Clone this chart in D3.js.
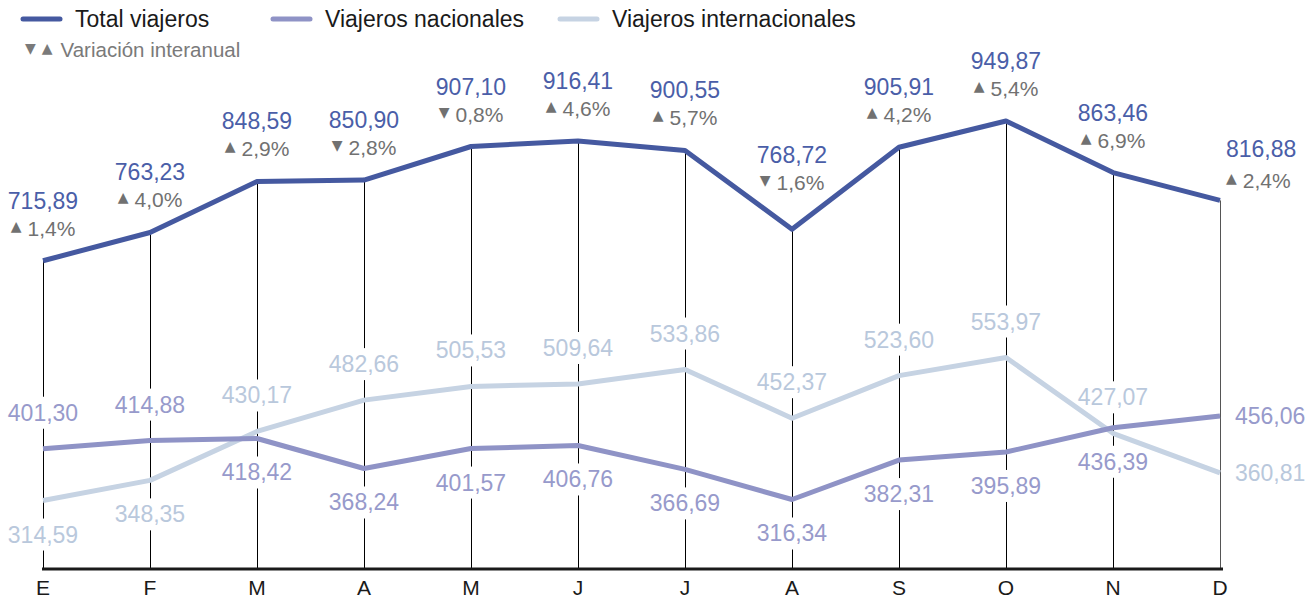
<!DOCTYPE html>
<html>
<head>
<meta charset="utf-8">
<script src="https://cdn.jsdelivr.net/npm/d3@7"></script>
<style>
  body { margin: 0; background: #fff; }
  svg { font-family: "Liberation Sans", Arial, Helvetica, sans-serif; }
  .tri { font-family: "DejaVu Sans", sans-serif; }
</style>
</head>
<body>
<svg id="chart" width="1315" height="601"></svg>
<script>
// Data
const months = ["E", "F", "M", "A", "M", "J", "J", "A", "S", "O", "N", "D"];
const total = [715.89, 763.23, 848.59, 850.90, 907.10, 916.41, 900.55, 768.72, 905.91, 949.87, 863.46, 816.88];
const variation = [1.4, 4.0, 2.9, -2.8, -0.8, 4.6, 5.7, -1.6, 4.2, 5.4, 6.9, 2.4];
const nacionales = [401.30, 414.88, 418.42, 368.24, 401.57, 406.76, 366.69, 316.34, 382.31, 395.89, 436.39, 456.06];
const internacionales = [314.59, 348.35, 430.17, 482.66, 505.53, 509.64, 533.86, 452.37, 523.60, 553.97, 427.07, 360.81];

// label placement per month (layout only)
const nacPlace = ["above", "above", "below", "below", "below", "below", "below", "below", "below", "below", "below", "right"];
const intPlace = ["below", "below", "above", "above", "above", "above", "above", "above", "above", "above", "above", "right"];

const colors = {
  total: "#4559a0",
  totalText: "#4a5ea8",
  nac: "#8f93c6",
  nacText: "#979acb",
  int: "#c6d3e3",
  intText: "#b9c8dc",
  grey: "#717171"
};

const es = d3.formatLocale({ decimal: ",", thousands: ".", grouping: [3], currency: ["", " €"] });
const fmt = es.format(".2f");
const fmtPct = es.format(".1f");

const svg = d3.select("#chart");
const idx = d3.range(months.length);

const x = d3.scalePoint().domain(idx).range([43, 1220]);
const y = d3.scaleLinear().domain([200, 1000]).range([569, 91]);
const crisp = v => Math.round(v) + 0.5;

// vertical drop lines
svg.append("g")
  .selectAll("line")
  .data(idx)
  .join("line")
  .attr("x1", i => crisp(x(i)))
  .attr("x2", i => crisp(x(i)))
  .attr("y1", i => y(total[i]))
  .attr("y2", y(200))
  .attr("stroke", i => i === months.length - 1 ? "#555" : "#000")
  .attr("stroke-width", 1);

// axis line
svg.append("line")
  .attr("x1", x(0) - 1).attr("x2", x(11) + 3)
  .attr("y1", y(200)).attr("y2", y(200))
  .attr("stroke", "#1a1a1a").attr("stroke-width", 3);

// month labels
svg.append("g")
  .selectAll("text")
  .data(idx)
  .join("text")
  .attr("x", i => x(i))
  .attr("y", 595)
  .attr("text-anchor", "middle")
  .attr("font-size", 21)
  .attr("fill", "#1a1a1a")
  .text(i => months[i]);

// label positions for the two lower series
function labelPos(values, place, i) {
  const p = place[i];
  if (p === "right") return { x: x(i) + 15, y: y(values[i]) + 8, anchor: "start" };
  if (p === "above") return { x: x(i), y: y(values[i]) - 28, anchor: "middle" };
  return { x: x(i), y: y(values[i]) + 42, anchor: "middle" };
}

// white backgrounds behind series labels cut the drop lines
const bgLayer = svg.append("g");
const lineLayer = svg.append("g");
const textLayer = svg.append("g");

const line = d3.line().x((d, i) => x(i)).y(d => y(d));

[[internacionales, colors.int], [nacionales, colors.nac], [total, colors.total]].forEach(([vals, c]) => {
  lineLayer.append("path")
    .attr("d", line(vals))
    .attr("fill", "none")
    .attr("stroke", c)
    .attr("stroke-width", 5)
    .attr("stroke-linejoin", "round");
});

[[nacionales, nacPlace, colors.nacText], [internacionales, intPlace, colors.intText]].forEach(([vals, place, c]) => {
  idx.forEach(i => {
    const pos = labelPos(vals, place, i);
    const t = textLayer.append("text")
      .attr("x", pos.x)
      .attr("y", pos.y)
      .attr("text-anchor", pos.anchor)
      .attr("font-size", 23)
      .attr("fill", c)
      .text(fmt(vals[i]));
    const bb = t.node().getBBox();
    bgLayer.append("rect")
      .attr("x", bb.x - 3).attr("y", pos.y - 24)
      .attr("width", bb.width + 6).attr("height", 32)
      .attr("fill", "#fff");
  });
});

// total labels with year-on-year variation
idx.forEach(i => {
  const px = x(i), py = y(total[i]);
  const last = i === months.length - 1;
  const dip = i > 0 && !last && total[i] < total[i - 1] && total[i] < total[i + 1];
  const lift = dip ? 14 : 0;
  const tx = last ? px + 6 : px;
  const anchor = last ? "start" : "middle";
  const vy = last ? py - 43 : py - 52 - lift;
  const ry = last ? py - 12 : py - 25 - lift;

  textLayer.append("text")
    .attr("x", tx).attr("y", vy)
    .attr("text-anchor", anchor)
    .attr("font-size", 23)
    .attr("fill", colors.totalText)
    .text(fmt(total[i]));

  const v = textLayer.append("text")
    .attr("x", tx).attr("y", ry)
    .attr("text-anchor", anchor)
    .attr("font-size", 21)
    .attr("fill", colors.grey);
  v.append("tspan")
    .attr("class", "tri")
    .attr("font-size", 14)
    .attr("dy", -5)
    .text(variation[i] < 0 ? "\u25BC" : "\u25B2");
  v.append("tspan")
    .attr("dy", 5)
    .attr("dx", 6)
    .text(fmtPct(Math.abs(variation[i])) + "%");
});

// legend
const legendItems = [
  { label: "Total viajeros", color: colors.total, x: 23 },
  { label: "Viajeros nacionales", color: colors.nac, x: 273 },
  { label: "Viajeros internacionales", color: colors.int, x: 560 }
];
const legend = svg.append("g");
legendItems.forEach(d => {
  legend.append("line")
    .attr("x1", d.x).attr("x2", d.x + 37)
    .attr("y1", 19).attr("y2", 19)
    .attr("stroke", d.color).attr("stroke-width", 5)
    .attr("stroke-linecap", "round");
  legend.append("text")
    .attr("x", d.x + 52).attr("y", 27)
    .attr("font-size", 23)
    .attr("fill", "#1a1a1a")
    .text(d.label);
});
const varLegend = legend.append("text")
  .attr("x", 25).attr("y", 57)
  .attr("font-size", 20.5)
  .attr("fill", "#7a7a7a");
varLegend.append("tspan").attr("class", "tri").attr("font-size", 14).attr("dy", -4).text("\u25BC");
varLegend.append("tspan").attr("class", "tri").attr("font-size", 14).attr("dx", 6).text("\u25B2");
varLegend.append("tspan").attr("dy", 4).attr("dx", 8).text("Variación interanual");
</script>
</body>
</html>
